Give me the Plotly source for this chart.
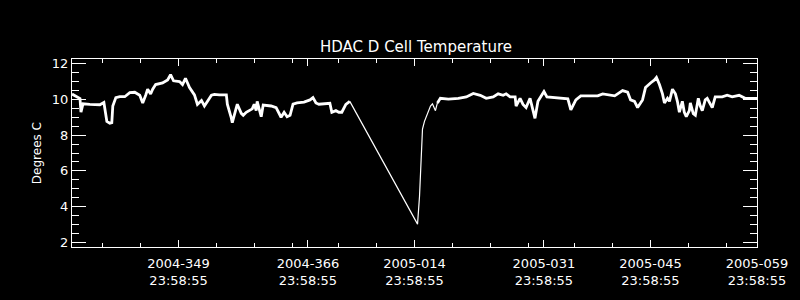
import plotly.graph_objects as go

# time in days since 2004-335 23:58:55
days = [0, 1.05, 1.18, 1.44, 2.35, 3.66, 4.19, 4.58, 4.97, 5.23, 5.36, 5.76, 6.28, 6.93,
        7.59, 8.24, 8.90, 9.29, 9.68, 9.94, 10.33, 10.60, 10.99, 11.90, 12.56, 12.95,
        13.34, 14.13, 14.52, 14.91, 15.44, 16.09, 16.48, 17.01, 17.40, 17.92, 18.32,
        18.71, 19.36, 20.28, 20.41, 20.93, 21.06, 21.59, 21.72, 22.24, 22.50, 22.89,
        23.29, 23.68, 23.94, 24.20, 24.33, 24.86, 25.12, 26.16, 26.82, 27.21, 27.47,
        27.87, 28.26, 28.65, 29.04, 29.57, 30.48, 31.27, 31.66, 32.05, 32.44, 33.88,
        34.14, 34.67, 35.06, 35.45, 35.98, 36.50,
        45.40, 45.66, 45.79, 45.92, 46.05, 46.31, 46.57, 47.10, 47.36, 47.75, 48.01,
        48.40, 49.45, 50.76, 51.81, 52.72, 53.64, 54.42, 55.34, 55.99, 56.65, 57.04,
        57.56, 58.22, 58.35, 58.87, 59.26, 59.66, 60.18, 60.44, 60.83, 61.22, 61.62,
        62.01, 62.40, 63.58, 64.76, 65.15, 65.54, 66.20, 66.85, 67.77, 69.07, 69.73,
        70.64, 71.30, 71.69, 72.34, 73.00, 73.39, 73.91, 74.31, 74.96, 75.35, 76.01,
        76.53, 76.79, 77.18, 77.58, 77.84, 78.24, 78.50, 78.89, 79.28, 79.54, 79.80,
        80.19, 80.45, 80.71, 81.11, 81.24, 81.63, 81.90, 82.29, 82.55, 82.81, 83.20,
        83.46, 84.12, 84.51, 85.43, 86.08, 86.74, 87.65, 88.44, 89.74, 90.0]
temps = [10.3, 10.05, 9.28, 9.75, 9.72, 9.7, 9.83, 8.77, 8.67, 8.7, 9.63, 10.1, 10.15, 10.15,
         10.38, 10.4, 10.23, 9.8, 10.23, 10.57, 10.3, 10.57, 10.83, 10.92, 11.09, 11.38,
         11.04, 11.0, 10.83, 11.18, 10.66, 10.25, 9.72, 9.94, 9.63, 9.95, 10.23,
         10.28, 10.25, 10.25, 9.73, 8.96, 8.7, 9.54, 9.73, 9.22, 9.11, 9.28,
         9.37, 9.47, 9.73, 9.37, 9.89, 9.03, 9.68, 9.63, 9.54, 9.22, 9.0,
         9.28, 9.03, 9.11, 9.73, 9.8, 9.85, 9.97, 10.1, 9.8, 9.73, 9.78,
         9.28, 9.37, 9.28, 9.28, 9.72, 9.89,
         3.02, 4.58, 5.76, 6.96, 8.34, 8.77, 9.03, 9.63, 9.75, 9.37, 9.8,
         10.06, 10.02, 10.06, 10.14, 10.33, 10.23, 10.06, 10.14, 10.31, 10.23, 10.31,
         10.14, 10.14, 9.63, 10.06, 9.72, 9.54, 10.06, 9.54, 8.94, 9.89, 10.14,
         10.44, 10.14, 10.1, 10.06, 10.03, 9.41, 9.97, 10.2, 10.2, 10.2, 10.31,
         10.26, 10.2, 10.31, 10.49, 10.4, 9.97, 9.89, 9.54, 9.97, 10.66, 10.92,
         11.09, 11.23, 10.83, 10.31, 9.8, 10.06, 9.89, 10.57, 10.31, 9.89, 9.28,
         9.89, 9.28, 9.03, 9.37, 9.8, 9.2, 9.11, 10.06, 9.63, 9.37, 9.97,
         10.06, 9.54, 10.14, 10.14, 10.23, 10.14, 10.23, 10.06, 10.06, 10.06]

major_ticks = [14, 31, 45, 62, 76, 90]
major_labels = ["2004-349<br>23:58:55", "2004-366<br>23:58:55", "2005-014<br>23:58:55",
                "2005-031<br>23:58:55", "2005-045<br>23:58:55", "2005-059<br>23:58:55"]
minor_ticks = [4, 9, 19, 24, 29, 35, 40, 50, 55, 60, 66, 71, 81, 86]

gap_start = days.index(36.50)
gap_end = days.index(48.01)

FONT = "DejaVu Sans"
fig = go.Figure()
fig.add_trace(go.Scatter(x=days[:gap_start + 1], y=temps[:gap_start + 1], mode="lines",
                         line=dict(color="white", width=2.8), showlegend=False))
fig.add_trace(go.Scatter(x=days[gap_start:gap_end + 1], y=temps[gap_start:gap_end + 1],
                         mode="lines", line=dict(color="white", width=1.2), showlegend=False))
fig.add_trace(go.Scatter(x=days[gap_end:], y=temps[gap_end:], mode="lines",
                         line=dict(color="white", width=2.8), showlegend=False))

fig.update_layout(
    width=800, height=300,
    margin=dict(l=72, r=40, t=59, b=37),
    paper_bgcolor="black", plot_bgcolor="black",
    font=dict(family=FONT, color="white", size=12),
    title=dict(text="HDAC D Cell Temperature", x=416 / 800,
               xanchor="center", y=1 - 47 / 300, yanchor="middle",
               font=dict(size=15, family=FONT, color="white")),
    xaxis=dict(range=[0, 90], showgrid=False, zeroline=False,
               showline=True, linecolor="white", linewidth=1, mirror="ticks",
               ticks="inside", ticklen=7, tickcolor="white", tickwidth=1,
               tickmode="array", tickvals=major_ticks, ticktext=major_labels,
               ticklabelstandoff=4,
               tickfont=dict(size=13, family=FONT, color="white"),
               minor=dict(tickmode="array", tickvals=minor_ticks, ticks="inside",
                          ticklen=4, tickcolor="white", tickwidth=1, showgrid=False)),
    yaxis=dict(range=[1.74, 12.26], showgrid=False, zeroline=False,
               showline=True, linecolor="white", linewidth=1, mirror="ticks",
               ticks="inside", ticklen=14, tickcolor="white", tickwidth=1,
               tickmode="array", tickvals=[2, 4, 6, 8, 10, 12],
               tickfont=dict(size=13, family=FONT, color="white"),
               minor=dict(dtick=0.5, tick0=0, ticks="inside", ticklen=7,
                          tickcolor="white", tickwidth=1, showgrid=False)),
    annotations=[dict(text="Degrees C", textangle=-90, xref="paper", yref="paper",
                      x=-(72 - 37) / 688, y=0.5, xanchor="center", yanchor="middle",
                      showarrow=False, font=dict(size=12, family=FONT, color="white"))],
)

fig.write_html("out.html")
